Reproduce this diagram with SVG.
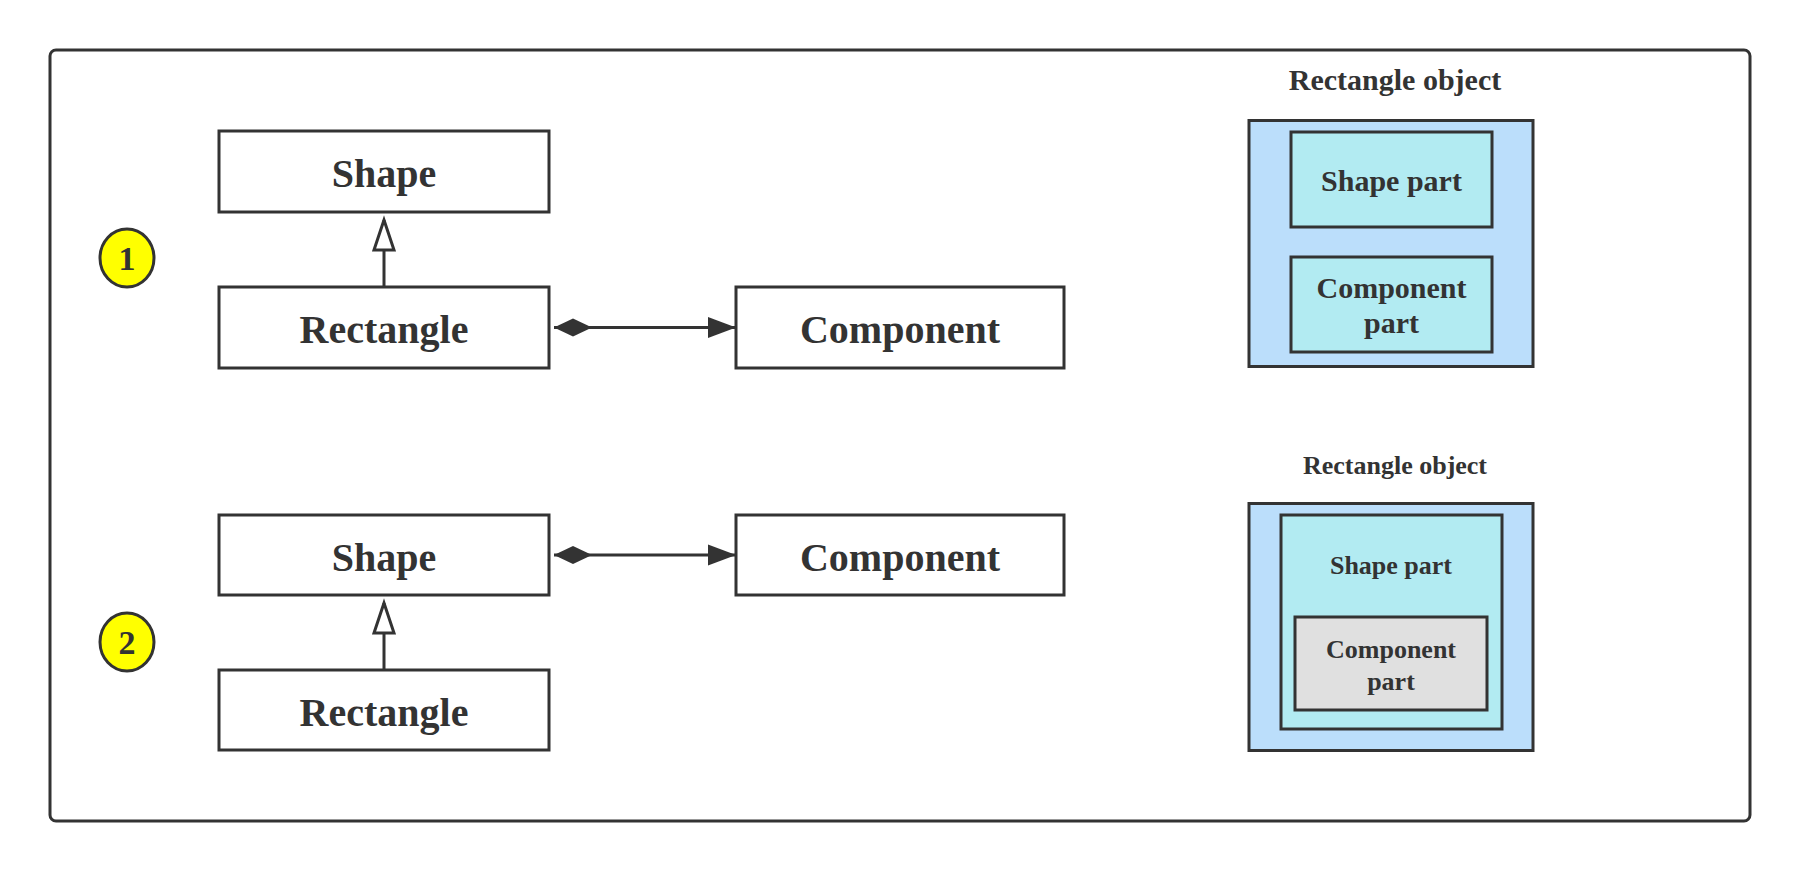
<svg xmlns="http://www.w3.org/2000/svg" width="1800" height="872" viewBox="0 0 1800 872">
<style>
.box{fill:#ffffff;stroke:#333333;stroke-width:3}
.t{font-family:"Liberation Serif","Times New Roman",serif;font-weight:bold;fill:#333333;text-anchor:middle}
.big{font-size:40px}
.mid{font-size:30px}
.sm{font-size:26px}
.num{font-size:34px}
.edge{fill:none;stroke:#333333;stroke-width:3}
.obj{fill:#bbdefb;stroke:#333333;stroke-width:3}
.part{fill:#b2ebf2;stroke:#333333;stroke-width:3}
.gray{fill:#e0e0e0;stroke:#333333;stroke-width:3}
.badge{fill:#ffff00;stroke:#333333;stroke-width:3}
</style>
<defs>
<marker id="filled" markerUnits="userSpaceOnUse" markerWidth="30" markerHeight="22" refX="28" refY="10.5" orient="auto" overflow="visible">
<path d="M0,0 L28,10.5 L0,21 z" fill="#333333"/>
</marker>
<marker id="diamond" markerUnits="userSpaceOnUse" markerWidth="40" markerHeight="20" refX="0" refY="9" orient="auto" overflow="visible">
<path d="M0,9 L19,0 L38,9 L19,18 z" fill="#333333"/>
</marker>
<marker id="hollow" markerUnits="userSpaceOnUse" markerWidth="32" markerHeight="22" refX="30" refY="10" orient="auto" overflow="visible">
<path d="M0,0 L30,10 L0,20 z" fill="#ffffff" stroke="#333333" stroke-width="3"/>
</marker>
</defs>
<rect width="1800" height="872" fill="#ffffff"/>
<rect id="frame" x="50" y="50" width="1700" height="771" rx="6" fill="none" stroke="#333333" stroke-width="3"/>

<g id="badge1"><ellipse class="badge" cx="127" cy="258" rx="27" ry="29"/><text class="t num" x="127" y="270">1</text></g>
<g id="badge2"><ellipse class="badge" cx="127" cy="642" rx="27" ry="29"/><text class="t num" x="127" y="654">2</text></g>

<g id="shape1"><rect class="box" x="219" y="131" width="330" height="81"/><text class="t big" x="384" y="186.5">Shape</text></g>
<g id="rectangle1"><rect class="box" x="219" y="287" width="330" height="81"/><text class="t big" x="384" y="342.5">Rectangle</text></g>
<g id="component1"><rect class="box" x="736" y="287" width="328" height="81"/><text class="t big" x="900" y="342.5">Component</text></g>

<g id="shape2"><rect class="box" x="219" y="515" width="330" height="80"/><text class="t big" x="384" y="570.5">Shape</text></g>
<g id="rectangle2"><rect class="box" x="219" y="670" width="330" height="80"/><text class="t big" x="384" y="725.5">Rectangle</text></g>
<g id="component2"><rect class="box" x="736" y="515" width="328" height="80"/><text class="t big" x="900" y="570.5">Component</text></g>

<g id="connectors">
<path class="edge" d="M384,287 L384,220" marker-end="url(#hollow)"/>
<path class="edge" d="M554,327.5 L736,327.5" marker-start="url(#diamond)" marker-end="url(#filled)"/>
<path class="edge" d="M384,670 L384,603" marker-end="url(#hollow)"/>
<path class="edge" d="M554,555 L736,555" marker-start="url(#diamond)" marker-end="url(#filled)"/>
</g>

<g id="object1">
<text class="t mid" x="1395" y="89.5">Rectangle object</text>
<rect class="obj" x="1249" y="120.5" width="284" height="246"/>
<g id="shapepart1"><rect class="part" x="1291" y="132" width="201" height="95"/><text class="t mid" x="1391.5" y="191">Shape part</text></g>
<g id="componentpart1"><rect class="part" x="1291" y="257" width="201" height="95"/><text class="t mid" x="1391.5" y="297.5">Component</text><text class="t mid" x="1391.5" y="333">part</text></g>
</g>

<g id="object2">
<text class="t sm" x="1395" y="474">Rectangle object</text>
<rect class="obj" x="1249" y="503.5" width="284" height="247"/>
<g id="shapepart2"><rect class="part" x="1281" y="515" width="221" height="214"/><text class="t sm" x="1391" y="574">Shape part</text></g>
<g id="componentpart2"><rect class="gray" x="1295" y="617" width="192" height="93"/><text class="t sm" x="1391" y="658">Component</text><text class="t sm" x="1391" y="690">part</text></g>
</g>
</svg>
